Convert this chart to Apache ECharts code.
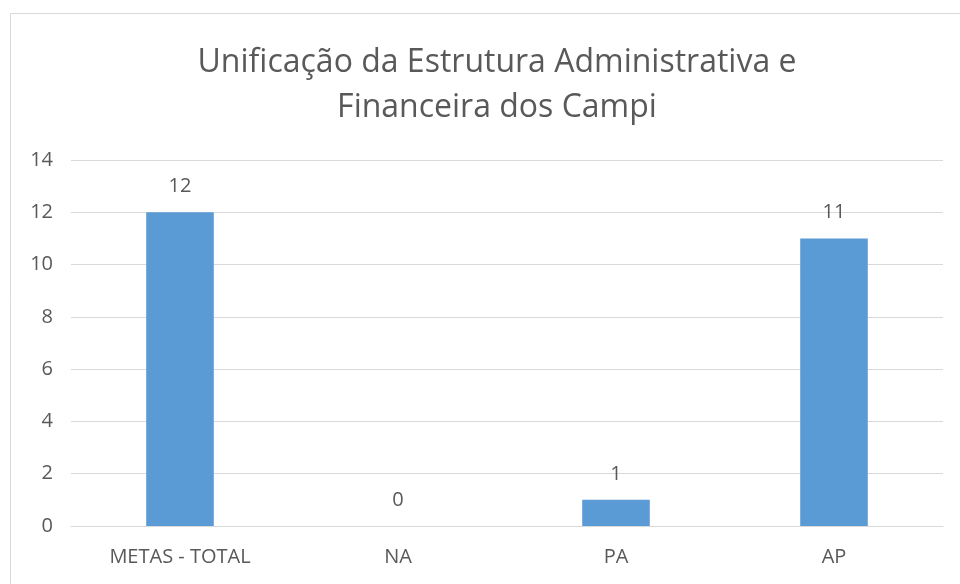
<!DOCTYPE html>
<html>
<head>
<meta charset="utf-8">
<script src="https://cdn.jsdelivr.net/npm/echarts@6/dist/echarts.min.js"></script>
<style>
  html, body { margin: 0; padding: 0; background: #fff; }
  #chart { width: 960px; height: 584px; }
</style>
</head>
<body>
<div id="chart"></div>
<script>
// chart data
const categories = ['METAS - TOTAL', 'NA', 'PA', 'AP']
const values = [12, 0, 1, 11]
const titleText = 'Unificação da Estrutura Administrativa e\nFinanceira dos Campi'

const textColor = '#595959'
const fontFamily = '"Open Sans", sans-serif'

let chart = echarts.init(document.getElementById('chart'))
chart.setOption({
  backgroundColor: '#fff',
  animation: false,
  graphic: [{
    type: 'rect',
    shape: { x: 10.5, y: 13.5, width: 980, height: 600 },
    style: { fill: 'none', stroke: '#d9d9d9', lineWidth: 1 },
    silent: true
  }],
  title: {
    text: titleText,
    left: 492,
    top: 35,
    textAlign: 'center',
    textStyle: {
      color: textColor,
      fontFamily: fontFamily,
      fontWeight: 'normal',
      fontSize: 32,
      lineHeight: 45
    }
  },
  grid: {
    left: 71,
    right: 17,
    top: 160,
    bottom: 58,
    containLabel: false
  },
  xAxis: {
    type: 'category',
    data: categories,
    axisLine: { lineStyle: { color: '#d9d9d9', width: 1 } },
    axisTick: { show: false },
    axisLabel: {
      color: textColor,
      fontFamily: fontFamily,
      fontSize: 20,
      margin: 21
    }
  },
  yAxis: {
    type: 'value',
    min: 0,
    max: 14,
    interval: 2,
    axisLine: { show: false },
    axisTick: { show: false },
    splitLine: { lineStyle: { color: '#d9d9d9', width: 1 } },
    axisLabel: {
      color: textColor,
      fontFamily: fontFamily,
      fontSize: 20,
      margin: 18
    }
  },
  series: [{
    type: 'bar',
    data: values,
    barWidth: '31%',
    itemStyle: { color: '#5b9bd5' },
    label: {
      show: true,
      position: 'top',
      distance: 16,
      color: textColor,
      fontFamily: fontFamily,
      fontSize: 20
    }
  }]
})
</script>
</body>
</html>
